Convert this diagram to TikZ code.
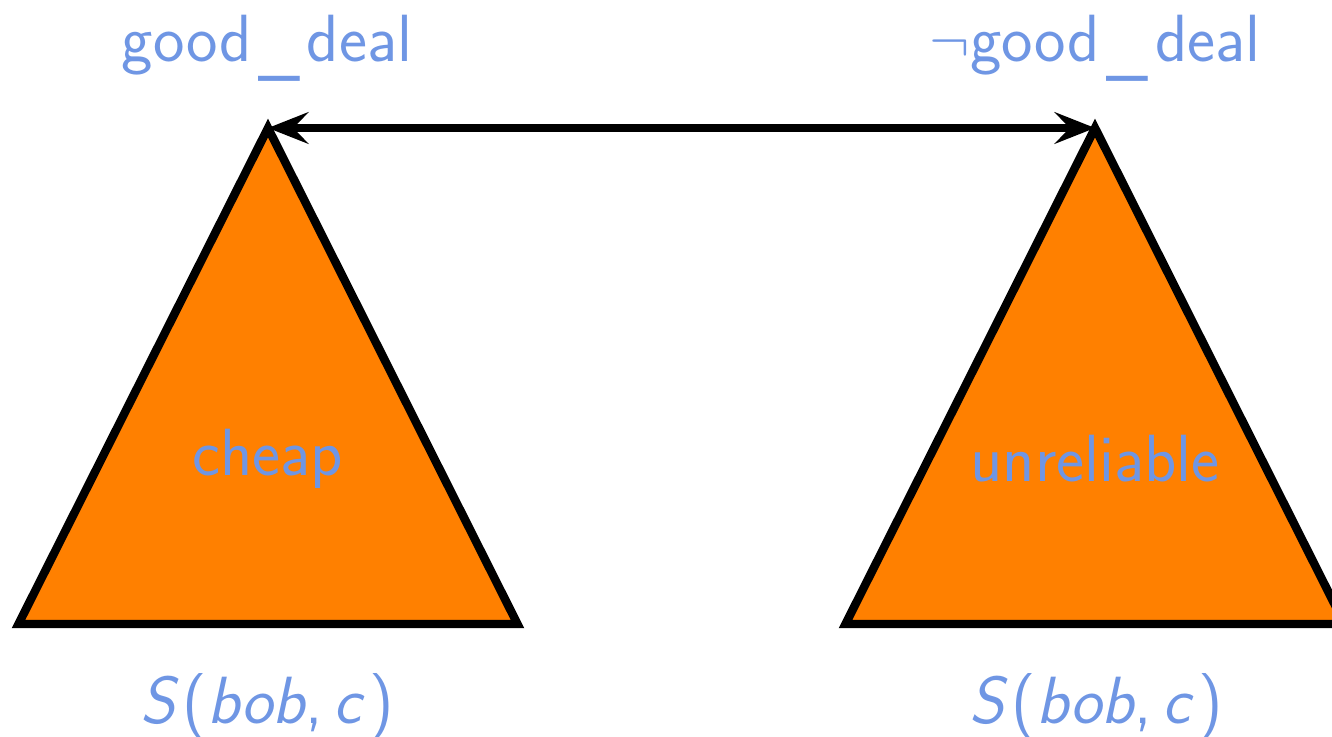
\documentclass[tikz,border=0pt]{standalone}
\usepackage{amsmath,amssymb}
\usepackage{tikz}
\usetikzlibrary{arrows.meta}

\definecolor{lblblue}{RGB}{111,150,228}
\definecolor{triorange}{RGB}{255,128,0}

\newcommand{\lowbar}{\kern0.1em\raisebox{-2.3pt}{\_}\kern0.1em}
\newcommand{\sbobc}{\textsl{S}\kern0.06em(\textsl{bob},\,\textsl{c}\kern0.06em)}

\tikzset{
    tri/.style={fill=triorange, draw=black, line width=2.4pt, line join=miter},
    link/.style={draw=black, line width=2.3pt,
        {Stealth[length=11.5pt, width=9pt, inset=4.3pt]}-{Stealth[length=11.5pt, width=9pt, inset=4.3pt]}},
    lbl/.style={text=lblblue, font=\sffamily\fontsize{19}{22}\selectfont, inner sep=0pt}
}

\begin{document}
\begin{tikzpicture}
    \useasboundingbox (0,0) rectangle (13.32,7.36);

    % Triangles (left: good deal, right: not good deal)
    \foreach \cx/\nm in {2.68/good, 10.95/bad} {
        \filldraw[tri] (\cx,6.08) coordinate (\nm top)
            -- (\cx-2.495,1.12) -- (\cx+2.495,1.12) -- cycle;
    }

    % Link between the two apexes
    \draw[link] (goodtop) -- (badtop);

    % Labels above
    \node[lbl, anchor=base] (goodlbl) at (2.67,6.74) {good\lowbar deal};
    \node[lbl, anchor=base] (notgoodlbl) at (10.95,6.74) {$\neg$good\lowbar deal};

    % Labels inside
    \node[lbl] (cheaplbl) at (2.68,2.77) {cheap};
    \node[lbl] (unrellbl) at (10.95,2.77) {unreliable};

    % Labels below
    \node[lbl, anchor=base] (lefts) at (2.67,0.13) {\sbobc};
    \node[lbl, anchor=base] (rights) at (10.96,0.13) {\sbobc};
\end{tikzpicture}
\end{document}
